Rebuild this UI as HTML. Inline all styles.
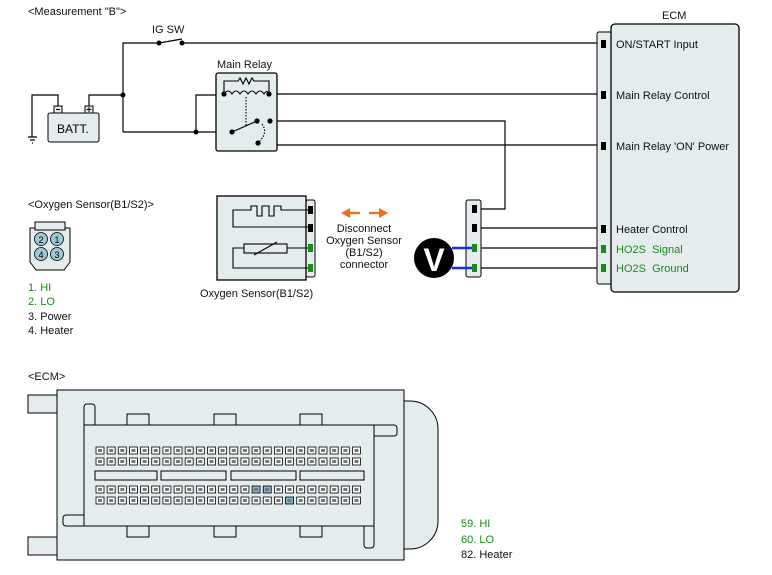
<!DOCTYPE html>
<html><head><meta charset="utf-8"><style>
html,body{margin:0;padding:0;background:#fff;}
svg{display:block;font-family:"Liberation Sans",Arial,sans-serif;}
</style></head><body>
<svg width="772" height="575" viewBox="0 0 772 575" xmlns="http://www.w3.org/2000/svg">
<g font-size="11" fill="#111">
<text x="28" y="15">&lt;Measurement "B"&gt;</text>
<text x="152" y="33">IG SW</text>
<text x="217" y="68">Main Relay</text>
<text x="662" y="19">ECM</text>
</g>
<!-- wires -->
<g stroke="#000" stroke-width="1.2" fill="none">
<path d="M123 132 V43 H159 M182 43 H600"/>
<path d="M159 43 L182 39"/>
<path d="M89 106 V95 H123"/>
<path d="M58 106 V95 H32 V137"/>
<path d="M28 137 H37 M30 140 H35 M32 143 H33"/>
<path d="M123 132 H232"/>
<path d="M196 132 V95 H224"/>
<path d="M269 94 H600"/>
<path d="M270 121 H505 V209 H480"/>
<path d="M270 121 V145 H600"/>
<path d="M480 228 H600 M480 248 H600 M480 268 H600"/>
</g>
<!-- battery -->
<rect x="48" y="113" width="51" height="29" rx="2" fill="#e4ecee" stroke="#000"/>
<rect x="54" y="106" width="8" height="7" fill="#e4ecee" stroke="#000"/>
<rect x="85" y="106" width="8" height="7" fill="#e4ecee" stroke="#000"/>
<g stroke="#000" stroke-width="1"><path d="M56 109.5 H60 M86.5 109.5 H91.5 M89 107 V112"/></g>
<text x="57" y="133" font-size="12">BATT.</text>
<g fill="#000"><circle cx="123" cy="95" r="2.5"/><circle cx="196" cy="132" r="2.5"/><circle cx="159" cy="43" r="2.5"/><circle cx="182" cy="43" r="2.5"/></g>
<!-- relay -->
<rect x="216" y="73" width="61" height="78" rx="2" fill="#e4ecee" stroke="#000" stroke-width="1.3"/>
<g stroke="#000" stroke-width="1.1" fill="none">
<path d="M224 94 V81 H238 l2 -3 l3 6 l3 -6 l3 6 l3 -6 l2 3 H269 V94"/>
<path d="M224 94 q4 -6 8 0 q4 -6 8 0 q4 -6 8 0 q4 -6 8 0 q4 -6 8 0 q3 -5 5 0"/>
<path d="M246 97 V126" stroke-dasharray="1.5 1.5"/>
<path d="M232 132 L257 121"/>
<path d="M262 124 q6 8 -2 17" stroke-dasharray="1.5 1.5"/>
</g>
<g fill="#000"><circle cx="224" cy="94" r="2.6"/><circle cx="269" cy="94" r="2.6"/><circle cx="232" cy="132" r="2.6"/><circle cx="257" cy="121" r="2.6"/><circle cx="270" cy="121" r="2.6"/><circle cx="258" cy="143" r="2.6"/></g>
<!-- ECM box -->
<rect x="597" y="32" width="16" height="252" rx="2" fill="#e4ecee" stroke="#000"/>
<rect x="611" y="24" width="128" height="268" rx="4" fill="#e4ecee" stroke="#000" stroke-width="1.3"/>
<g fill="#000"><rect x="601" y="40" width="5" height="8"/><rect x="601" y="91" width="5" height="8"/><rect x="601" y="142" width="5" height="8"/><rect x="601" y="225" width="5" height="8"/></g>
<g fill="#1a8a1a"><rect x="601" y="245" width="5" height="8"/><rect x="601" y="264" width="5" height="8"/></g>
<g font-size="11" fill="#111">
<text x="616" y="48">ON/START Input</text>
<text x="616" y="99">Main Relay Control</text>
<text x="616" y="150">Main Relay 'ON' Power</text>
<text x="616" y="233">Heater Control</text>
<text x="616" y="253" fill="#1a8a1a" xml:space="preserve">HO2S  Signal</text>
<text x="616" y="272" fill="#1a8a1a" xml:space="preserve">HO2S  Ground</text>
</g>
<!-- O2 sensor label & connector icon -->
<text x="28" y="208" font-size="11" fill="#111">&lt;Oxygen Sensor(B1/S2)&gt;</text>
<g stroke="#000" stroke-width="1" fill="#e4ecee">
<path d="M30 228 H70 V262 L64 270 H36 L30 262 Z"/>
<rect x="35" y="222" width="30" height="8"/>
</g>
<g stroke="#000" stroke-width="0.8" fill="#9cc7d3">
<circle cx="41" cy="239" r="6.5"/><circle cx="57" cy="239" r="6.5"/><circle cx="41" cy="254" r="6.5"/><circle cx="57" cy="254" r="6.5"/>
</g>
<g font-size="9" fill="#000" text-anchor="middle"><text x="41" y="243">2</text><text x="57" y="243">1</text><text x="41" y="258">4</text><text x="57" y="258">3</text></g>
<g font-size="11">
<text x="28" y="291" fill="#1a8a1a">1. HI</text>
<text x="28" y="305" fill="#1a8a1a">2. LO</text>
<text x="28" y="320" fill="#111">3. Power</text>
<text x="28" y="334" fill="#111">4. Heater</text>
</g>
<!-- oxygen sensor -->
<rect x="306" y="200" width="9" height="77" rx="2" fill="#e4ecee" stroke="#000"/>
<rect x="217" y="196" width="89" height="84" fill="#e4ecee" stroke="#000" stroke-width="1.3"/>
<g stroke="#000" stroke-width="1.1" fill="none">
<path d="M309 210 H281 V206 H274 V216 H269 V206 H262 V216 H257 V206 H251 V210 H233 V227 H309"/>
<rect x="244" y="244" width="43" height="9"/>
<path d="M287 248 H309 M244 248 H233 V268 H309 M254 255 L277 242"/>
</g>
<g fill="#000"><rect x="308" y="206" width="5" height="8"/><rect x="308" y="224" width="5" height="8"/></g>
<g fill="#1a8a1a"><rect x="308" y="244" width="5" height="8"/><rect x="308" y="264" width="5" height="8"/></g>
<text x="200" y="297" font-size="11" fill="#111">Oxygen Sensor(B1/S2)</text>
<!-- arrows -->
<g fill="#f26a1b" stroke="#f26a1b" stroke-width="2.2">
<path d="M348 213 H360 M369 213 H381"/>
<path d="M341 213 L350 208 L350 218 Z M388 213 L379 208 L379 218 Z" stroke="none"/>
</g>
<g font-size="11" fill="#111" text-anchor="middle">
<text x="364" y="232">Disconnect</text>
<text x="364" y="244">Oxygen Sensor</text>
<text x="364" y="256">(B1/S2)</text>
<text x="364" y="268">connector</text>
</g>
<!-- connector & voltmeter -->
<rect x="466" y="200" width="15" height="77" rx="2" fill="#e4ecee" stroke="#000"/>
<g stroke="#1a2fe0" stroke-width="2.5"><path d="M452 248 H474 M452 268 H474"/></g>
<g fill="#000"><rect x="472" y="205" width="5" height="8"/><rect x="472" y="224" width="5" height="8"/></g>
<g fill="#1a8a1a"><rect x="472" y="244" width="5" height="8"/><rect x="472" y="264" width="5" height="8"/></g>
<circle cx="434" cy="258" r="20" fill="#000"/>
<text x="434" y="271" font-size="32" font-weight="bold" fill="#fff" text-anchor="middle">V</text>
<!-- ECM connector -->
<text x="28" y="380" font-size="11" fill="#111">&lt;ECM&gt;</text>
<g stroke="#000" stroke-width="1" fill="#e4ecee">
<rect x="28" y="395" width="30" height="18"/>
<rect x="28" y="537" width="30" height="18"/>
<path d="M404 401 H410 A28 28 0 0 1 438 429 V521 A28 28 0 0 1 410 549 H404 Z"/>
<rect x="57" y="390" width="347" height="170"/>
<rect x="84" y="404" width="11" height="30" rx="3"/>
<rect x="63" y="515" width="30" height="11" rx="3"/>
<rect x="364" y="518" width="10" height="30" rx="3"/>
<rect x="366" y="425" width="31" height="11" rx="3"/>
<rect x="127" y="414" width="22" height="15"/><rect x="214" y="414" width="22" height="15"/><rect x="300" y="414" width="22" height="15"/>
<rect x="127" y="522" width="22" height="15"/><rect x="214" y="522" width="22" height="15"/><rect x="300" y="522" width="22" height="15"/>
<rect x="84" y="425" width="290" height="101"/>
<rect x="95" y="471" width="62" height="9"/><rect x="161" y="471" width="65" height="9"/><rect x="231" y="471" width="65" height="9"/><rect x="300" y="471" width="64" height="9"/>
</g>
<g id="pins" stroke="#000" stroke-width="0.8" fill="#fff"></g>
<g font-size="11">
<text x="461" y="527" fill="#1a8a1a">59. HI</text>
<text x="461" y="543" fill="#1a8a1a">60. LO</text>
<text x="461" y="558" fill="#111">82. Heater</text>
</g>
<script>
(function(){var g=document.getElementById('pins'),ns='http://www.w3.org/2000/svg';
var rows=[447,458,486,497];
for(var r=0;r<4;r++)for(var i=0;i<24;i++){var x=96+i*11.15;var e=document.createElementNS(ns,'rect');
e.setAttribute('x',x);e.setAttribute('y',rows[r]);e.setAttribute('width',8);e.setAttribute('height',7);
var hl=(r==2&&(i==14||i==15))||(r==3&&i==17);e.setAttribute('fill',hl?'#7fb6c8':'#fff');g.appendChild(e);
var m=document.createElementNS(ns,'rect');m.setAttribute('x',x+2);m.setAttribute('y',rows[r]+2);m.setAttribute('width',4);m.setAttribute('height',3);m.setAttribute('fill','#777');m.setAttribute('stroke','none');g.appendChild(m);}
})();
</script>
</svg>
</body></html>
